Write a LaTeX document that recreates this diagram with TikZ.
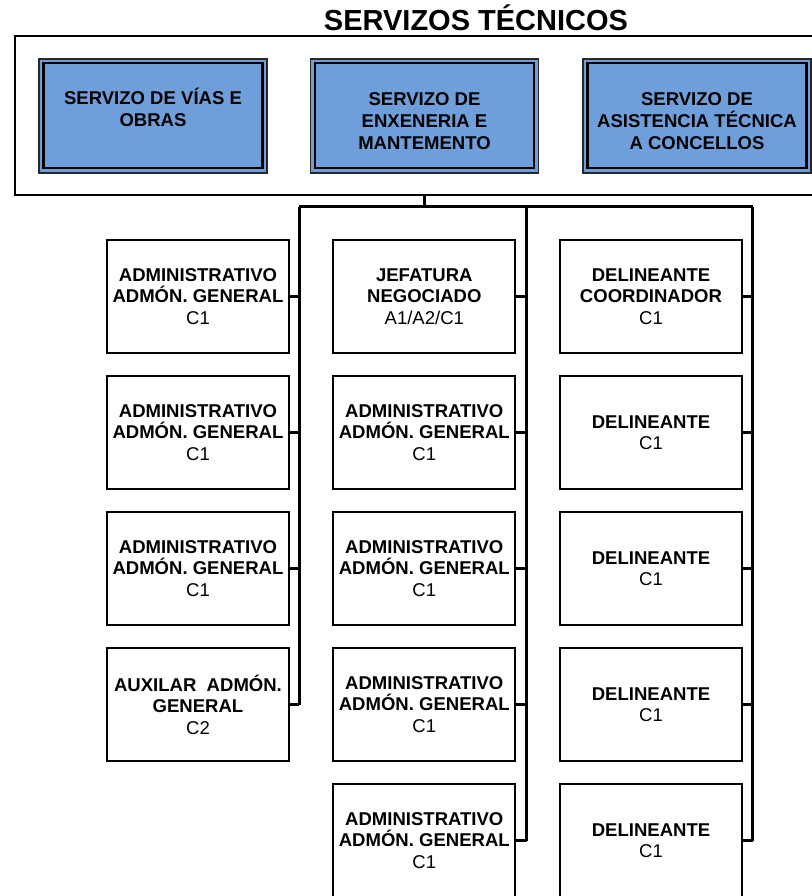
\documentclass[tikz,border=0pt]{standalone}
\usepackage{fontspec}
\setmainfont{Liberation Sans}
\usetikzlibrary{calc}
\definecolor{svblue}{RGB}{111,159,218}
\definecolor{svedge}{RGB}{40,40,40}
\begin{document}
\begin{tikzpicture}[x=0.75pt,y=-0.75pt,
  pbox/.style={draw=black, line width=1.4pt, fill=white, minimum width=136.5pt,
    minimum height=84.75pt, inner sep=0pt, align=center,
    font=\fontsize{13.9}{16.1}\selectfont},
  blueout/.style={draw=svedge, line width=1.1pt, fill=svblue, minimum width=171pt,
    minimum height=85.5pt, inner sep=0pt},
  bluein/.style={draw=black, line width=1.6pt, minimum width=164.25pt,
    minimum height=78.75pt, inner sep=0pt},
  bluetxt/.style={anchor=base, align=center, inner sep=0pt,
    font=\fontsize{13.9}{16.3}\selectfont\bfseries},
  grpbox/.style={draw=black, line width=2.2pt, minimum width=622.5pt,
    minimum height=119.25pt, inner sep=0pt},
  conn/.style={draw=black, line width=1.9pt},
  stub/.style={draw=black, line width=1.6pt}]
\clip (0,0) rectangle (812,896);
\fill[white] (0,0) rectangle (812,896);

% title
\node[anchor=base, inner sep=0pt, font=\fontsize{21.75}{26}\selectfont\bfseries]
  (title) at (476,30.7) {SERVIZOS TÉCNICOS};

% group box
\node[grpbox] (grp) at (430,115.5) {};

% blue boxes
\node[blueout] (s1) at (153,116) {};
\node[bluein] (s1i) at (153,115.5) {};
\node[bluetxt] (s1t) at (153,126.7) {SERVIZO DE VÍAS E\\OBRAS};
\node[blueout] (s2) at (424.5,116) {};
\node[bluein] (s2i) at (424.5,115.5) {};
\node[bluetxt] (s2t) at (424.5,149) {SERVIZO DE\\ENXENERIA E\\MANTEMENTO};
\node[blueout] (s3) at (697,116) {};
\node[bluein] (s3i) at (697,115.5) {};
\node[bluetxt] (s3t) at (697,149) {SERVIZO DE\\ASISTENCIA TÉCNICA\\A CONCELLOS};

% connector hub
\coordinate (hub) at (424.5,206.5);
\coordinate (cL) at (299.3,206.5);
\coordinate (cM) at (526.7,206.5);
\coordinate (cR) at (752.7,206.5);

% left column
\node[pbox] (a1) at (198,296.5) {\textbf{ADMINISTRATIVO}\\\textbf{ADMÓN. GENERAL}\\C1};
\node[pbox] (a2) at (198,432.5) {\textbf{ADMINISTRATIVO}\\\textbf{ADMÓN. GENERAL}\\C1};
\node[pbox] (a3) at (198,568.5) {\textbf{ADMINISTRATIVO}\\\textbf{ADMÓN. GENERAL}\\C1};
\node[pbox] (a4) at (198,704.5) {\textbf{AUXILAR\ \ ADMÓN.}\\\textbf{GENERAL}\\C2};

% middle column
\node[pbox] (b1) at (424.3,296.5) {\textbf{JEFATURA}\\\textbf{NEGOCIADO}\\A1/A2/C1};
\node[pbox] (b2) at (424.3,432.5) {\textbf{ADMINISTRATIVO}\\\textbf{ADMÓN. GENERAL}\\C1};
\node[pbox] (b3) at (424.3,568.5) {\textbf{ADMINISTRATIVO}\\\textbf{ADMÓN. GENERAL}\\C1};
\node[pbox] (b4) at (424.3,704.5) {\textbf{ADMINISTRATIVO}\\\textbf{ADMÓN. GENERAL}\\C1};
\node[pbox] (b5) at (424.3,840.5) {\textbf{ADMINISTRATIVO}\\\textbf{ADMÓN. GENERAL}\\C1};

% right column
\node[pbox] (c1) at (651,296.5) {\textbf{DELINEANTE}\\\textbf{COORDINADOR}\\C1};
\node[pbox] (c2) at (651,432.5) {\textbf{DELINEANTE}\\C1};
\node[pbox] (c3) at (651,568.5) {\textbf{DELINEANTE}\\C1};
\node[pbox] (c4) at (651,704.5) {\textbf{DELINEANTE}\\C1};
\node[pbox] (c5) at (651,840.5) {\textbf{DELINEANTE}\\C1};

% connectors
\draw[conn] (grp.south -| hub) -- (hub);
\draw[conn] (cL) -- (cR);
\draw[conn] (cL) -- (cL |- a4.east);
\draw[conn] (cM) -- (cM |- b5.east);
\draw[conn] (cR) -- (cR |- c5.east);
\foreach \n in {a1,a2,a3,a4} { \draw[stub] (\n.east) -- (\n.east -| cL); }
\foreach \n in {b1,b2,b3,b4,b5} { \draw[stub] (\n.east) -- (\n.east -| cM); }
\foreach \n in {c1,c2,c3,c4,c5} { \draw[stub] (\n.east) -- (\n.east -| cR); }
\end{tikzpicture}
\end{document}
